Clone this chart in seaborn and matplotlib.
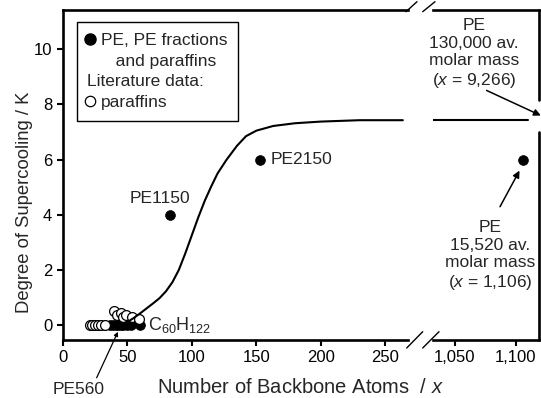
import matplotlib
matplotlib.use("Agg")
import matplotlib.pyplot as plt
import seaborn as sns
import pandas as pd
from matplotlib.lines import Line2D

sns.set_theme(style="ticks")
plt.rcParams["font.family"] = ["Liberation Sans", "DejaVu Sans"]
plt.rcParams["mathtext.fontset"] = "custom"
plt.rcParams["mathtext.rm"] = "Liberation Sans"
plt.rcParams["mathtext.it"] = "Liberation Sans:italic"
plt.rcParams["mathtext.default"] = "regular"

# ---------------- data ----------------
own_x = [37, 39, 41, 43, 45, 47, 50, 53, 60, 83, 153, 1106]
own_y = [0, 0, 0, 0, 0, 0, 0, 0, 0, 4, 6, 6]

lit_x = [21, 23, 25, 27, 30, 33, 40, 42, 45, 47, 49, 54, 59]
lit_y = [0, 0, 0, 0, 0, 0, 0.5, 0.35, 0.42, 0.3, 0.36, 0.3, 0.2]

curve_x = [44, 50, 55, 60, 65, 70, 75, 80, 85, 90, 95, 100, 105, 110, 115,
           120, 127, 135, 142, 150, 163, 180, 200, 230, 263.5]
curve_y = [0.0, 0.1, 0.25, 0.42, 0.6, 0.78, 0.97, 1.22, 1.55, 2.0, 2.6, 3.25,
           3.9, 4.5, 5.02, 5.5, 6.0, 6.5, 6.85, 7.05, 7.22, 7.32, 7.38, 7.43, 7.43]
curve_x_right = [1031, 1110]
curve_y_right = [7.43, 7.43]

left_ticks = [0, 50, 100, 150, 200, 250]
left_tick_labels = ["0", "50", "100", "150", "200", "250"]
right_ticks = [1050, 1100]
right_tick_labels = ["1,050", "1,100"]
y_ticks = [0, 2, 4, 6, 8, 10]

own = pd.DataFrame({"x": own_x, "y": own_y})
lit = pd.DataFrame({"x": lit_x, "y": lit_y})
crv = pd.DataFrame({"x": curve_x, "y": curve_y})
crv_r = pd.DataFrame({"x": curve_x_right, "y": curve_y_right})

# ---------------- figure ----------------
W, H = 541, 398
fig = plt.figure(figsize=(W / 100, H / 100), dpi=100)
bot = 1 - 339.5 / H
top = 1 - 10 / H
axL = fig.add_axes([62.7 / W, bot, (408 - 62.7) / W, top - bot])
axR = fig.add_axes([433 / W, bot, (539 - 433) / W, top - bot])

YL = (-0.53, 11.43)
SP = 1.9
TF = 12
AF = 12.5

for ax in (axL, axR):
    ax.set_facecolor("white")
    ax.set_ylim(*YL)
    for s in ax.spines.values():
        s.set_linewidth(SP)
        s.set_color("black")

axL.set_xlim(0, 267.5)
axR.set_xlim(1032, 1119)

ms = 50
for ax in (axL, axR):
    sns.lineplot(data=crv if ax is axL else crv_r, x="x", y="y", ax=ax,
                 color="black", lw=1.5, zorder=5, sort=False, estimator=None)
    sns.scatterplot(data=own, x="x", y="y", ax=ax, color="black",
                    edgecolor="black", s=ms, linewidth=0.5, zorder=3, legend=False)
    sns.scatterplot(data=lit, x="x", y="y", ax=ax, facecolor="white",
                    edgecolor="black", s=ms, linewidth=0.9, zorder=4, legend=False)
    ax.set_xlabel("")
    ax.set_ylabel("")

axL.spines["right"].set_visible(False)
axR.spines["left"].set_visible(False)
axR.spines["right"].set_visible(False)
axR.axvline(1119, ymin=0, ymax=0.63, color="black", lw=SP, clip_on=False)
axR.axvline(1119, ymin=0.727, ymax=1, color="black", lw=SP, clip_on=False)

axL.set_xticks(left_ticks, left_tick_labels)
axR.set_xticks(right_ticks, right_tick_labels)
axL.set_yticks(y_ticks, [str(v) for v in y_ticks])
axR.set_yticks([])
axL.tick_params(axis="both", direction="out", length=4.5, width=1.5,
                labelsize=TF, pad=3, color="black", labelcolor="black")
axR.tick_params(axis="x", direction="out", length=4.5, width=1.5,
                labelsize=TF, pad=3, color="black", labelcolor="black")
axR.tick_params(axis="y", left=False, labelleft=False)

axL.set_ylabel("Degree of Supercooling / K", fontsize=13.3)
axL.yaxis.set_label_coords(-0.085, 0.415)
axL.set_xlabel(r"Number of Backbone Atoms  / $\mathit{x}$", fontsize=14.5)
axL.xaxis.set_label_coords(0.687, -0.118)

# ---------------- annotations ----------------
axL.text(75, 4.57, "PE1150", fontsize=AF, ha="center", va="center")
axL.text(161, 6.0, "PE2150", fontsize=AF, ha="left", va="center")
axL.text(66, -0.02, r"C$_{60}$H$_{122}$", fontsize=AF + 0.5, ha="left", va="center")
axL.text(12.7, -2.35, "PE560", fontsize=AF, ha="center", va="center",
         clip_on=False)
axL.annotate("", xy=(42.8, -0.25), xytext=(26.3, -1.92),
             arrowprops=dict(arrowstyle="-|>", color="black", lw=0.9,
                             mutation_scale=6, shrinkA=0, shrinkB=0),
             annotation_clip=False)

axR.text(1065.6, 9.83, "PE\n130,000 av.\nmolar mass\n($\\mathit{x}$ = 9,266)",
         fontsize=AF, ha="center", va="center", multialignment="center",
         clip_on=False)
axR.annotate("", xy=(1120.5, 7.6), xytext=(1076, 8.51),
             arrowprops=dict(arrowstyle="-|>", color="black", lw=1.1,
                             mutation_scale=10, shrinkA=0, shrinkB=0),
             annotation_clip=False)
axR.text(1078.7, 2.5, "PE\n15,520 av.\nmolar mass\n($\\mathit{x}$ = 1,106)",
         fontsize=AF, ha="center", va="center", multialignment="center",
         clip_on=False)
axR.annotate("", xy=(1103, 5.6), xytext=(1087, 4.29),
             arrowprops=dict(arrowstyle="-|>", color="black", lw=1.1,
                             mutation_scale=10, shrinkA=0, shrinkB=0),
             annotation_clip=False)

# ---------------- legend ----------------
handles = [
    Line2D([], [], ls="", marker="o", color="black", markersize=8),
    Line2D([], [], ls="", marker=""),
    Line2D([], [], ls="", marker=""),
    Line2D([], [], ls="", marker="o", mfc="white", mec="black", mew=0.9,
           markersize=7.5),
]
labels = ["PE, PE fractions", "   and paraffins", "Literature data:", "paraffins"]
leg = axL.legend(handles, labels, loc="upper left",
                 bbox_to_anchor=(0.040, 0.9636), borderaxespad=0,
                 frameon=True, fancybox=False, framealpha=1,
                 edgecolor="black", handlelength=0.32, handletextpad=0.48,
                 labelspacing=0.32, borderpad=0.62, fontsize=AF)
leg.get_frame().set_linewidth(1.0)
try:
    col = leg._legend_handle_box.get_children()[0]
    item = col.get_children()[2]
    item.get_children()[0].width = 0
    item.sep = 0
except Exception:
    pass

# ---------------- axis break marks (pixel positions) ----------------
def px_line(x0, y0, x1, y1):
    fig.add_artist(Line2D([x0 / W, x1 / W], [1 - y0 / H, 1 - y1 / H],
                          transform=fig.transFigure, color="black", lw=1.0))

px_line(406, 11.7, 417, 1.7)
px_line(422.7, 11.7, 435, 1.7)
px_line(406.7, 348, 422.7, 331.7)
px_line(422.7, 348, 439, 331.7)

fig.savefig("out.png", dpi=100, facecolor="white")
